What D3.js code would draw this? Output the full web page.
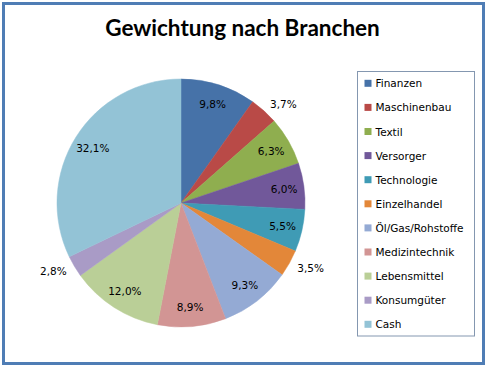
<!DOCTYPE html>
<html><head><meta charset="utf-8">
<script src="https://cdn.jsdelivr.net/npm/d3@7"></script>
<style>body{margin:0;background:#fff}svg{display:block}</style>
</head><body>
<script>
const categories = ["Finanzen","Maschinenbau","Textil","Versorger","Technologie","Einzelhandel","Öl/Gas/Rohstoffe","Medizintechnik","Lebensmittel","Konsumgüter","Cash"];
const values = [9.8,3.7,6.3,6.0,5.5,3.5,9.3,8.9,12.0,2.8,32.1];
const colors = ["#4672A8","#B94A47","#8FAE4F","#71589A","#3F9BB5","#E38739","#94AAD4","#D29594","#BACF97","#A99BC6","#93C3D6"];
const outsideLabels = ["Maschinenbau","Einzelhandel","Konsumgüter"];
const title = "Gewichtung nach Branchen";

const W = 489, H = 369;
const svg = d3.select("body").append("svg").attr("width", W).attr("height", H);
svg.append("rect").attr("x",3.5).attr("y",3.5).attr("width",480).attr("height",360)
  .attr("fill","#fff").attr("stroke","#4F7DB5").attr("stroke-width",3);

svg.append("text").attr("x",242.5).attr("y",36).attr("text-anchor","middle")
  .attr("font-family","Lato, sans-serif").attr("font-weight","bold").attr("font-size",22.5)
  .attr("fill","#000").text(title);

const cx = 181, cy = 203, R = 124;
const pie = d3.pie().sort(null).value(d => d.v);
const data = categories.map((c,i)=>({c, v: values[i], col: colors[i]}));
const arcs = pie(data);
const arc = d3.arc().innerRadius(0).outerRadius(R);
const g = svg.append("g").attr("transform",`translate(${cx},${cy})`);
g.selectAll("path").data(arcs).join("path").attr("d",arc).attr("fill",d=>d.data.col)
  .attr("stroke",d=>d.data.col).attr("stroke-width",0.5);

const inArc = d3.arc().innerRadius(R*0.84).outerRadius(R*0.84);
const fmt = v => v.toFixed(1).replace(".",",") + "%";
g.selectAll("text.lbl").data(arcs).join("text").attr("class","lbl")
  .attr("font-family","DejaVu Sans, sans-serif").attr("font-size",10.5).attr("fill","#000")
  .attr("dominant-baseline","central")
  .each(function(d){
    const mid = (d.startAngle+d.endAngle)/2;
    const t = d3.select(this);
    if (outsideLabels.includes(d.data.c)) {
      const rr = R + 9;
      const x = Math.sin(mid)*rr, y = -Math.cos(mid)*rr;
      t.attr("x", x).attr("y", y).attr("text-anchor", Math.sin(mid) >= 0 ? "start" : "end");
    } else {
      const [x,y] = inArc.centroid(d);
      t.attr("x",x).attr("y",y).attr("text-anchor","middle");
    }
  })
  .text(d=>fmt(d.data.v));

// legend
const lx = 357.5, ly = 71.5, lw = 117, lh = 264.5;
svg.append("rect").attr("x",lx).attr("y",ly).attr("width",lw).attr("height",lh)
  .attr("fill","#fff").attr("stroke","#8497B0").attr("stroke-width",1);
const step = 24.1;
const lg = svg.append("g").selectAll("g").data(data).join("g")
  .attr("transform",(d,i)=>`translate(364.5,${83.3 + i*step})`);
lg.append("rect").attr("x",0).attr("y",-3.5).attr("width",7).attr("height",7).attr("fill",d=>d.col);
lg.append("text").attr("x",11).attr("y",0).attr("dominant-baseline","central")
  .attr("font-family","DejaVu Sans, sans-serif").attr("font-size",10.5).attr("fill","#000")
  .text(d=>d.c);
</script>
</body></html>
